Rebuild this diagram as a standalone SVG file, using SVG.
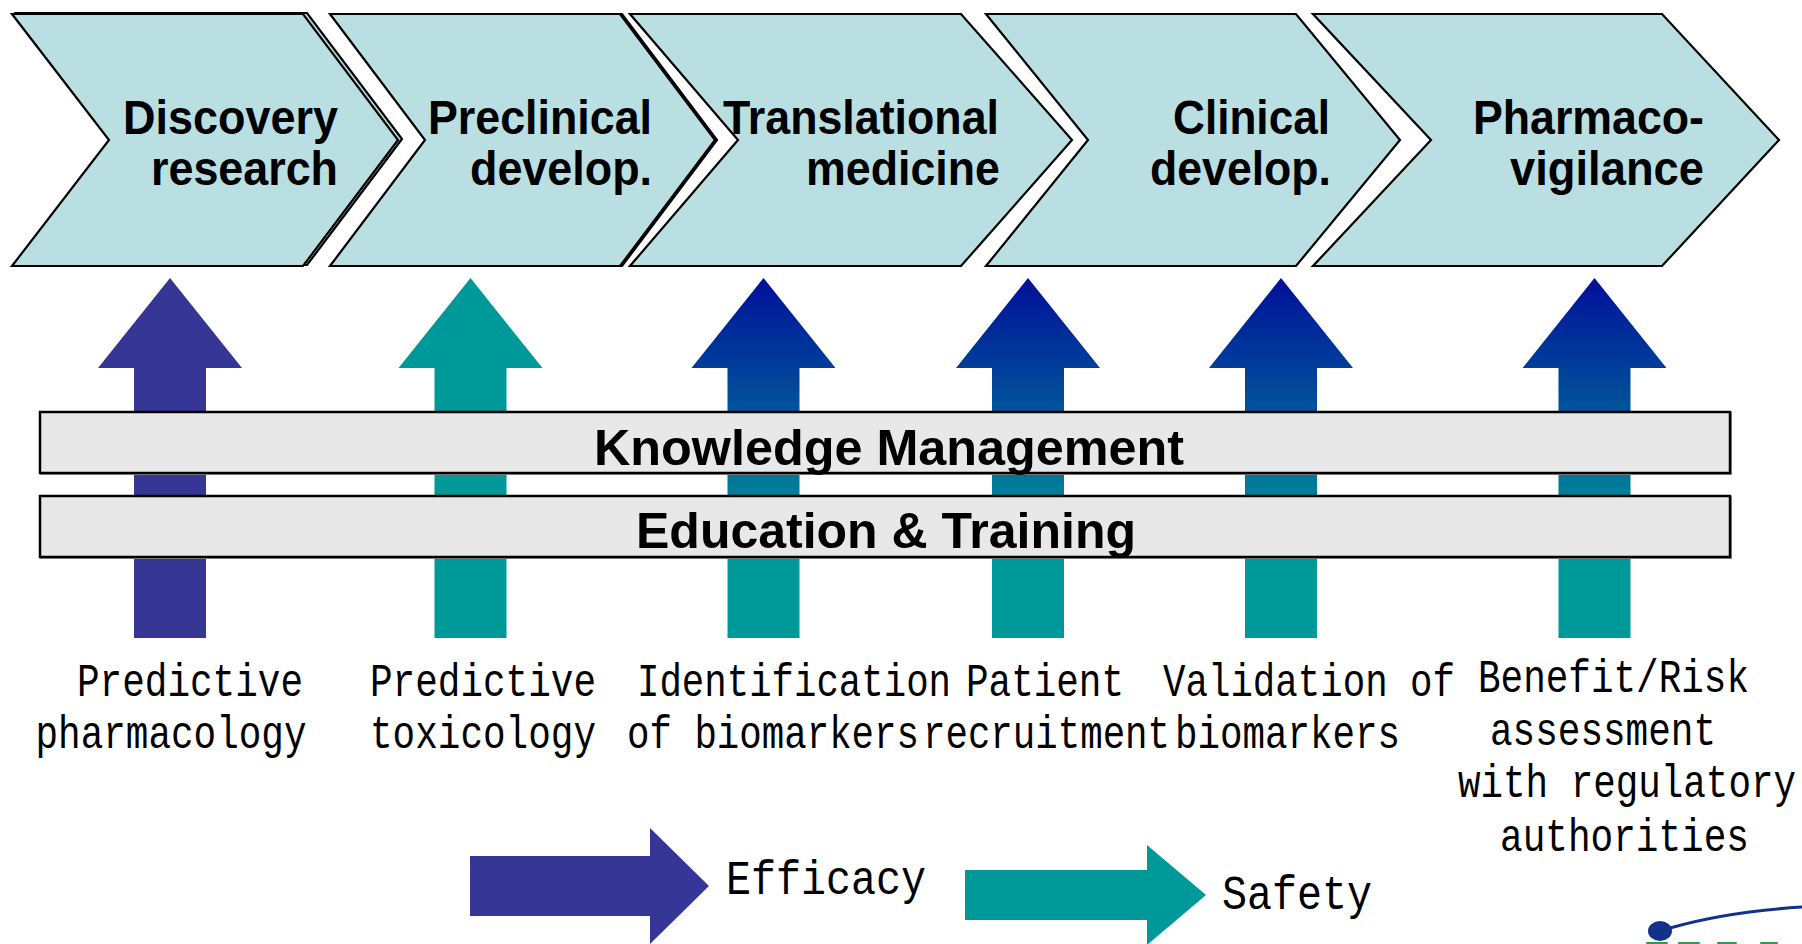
<svg xmlns="http://www.w3.org/2000/svg" width="1802" height="944" viewBox="0 0 1802 944">
  <style>
    .chev { fill: #B9DFE3; stroke: #000; stroke-width: 2.2; stroke-linejoin: miter; }
    .phase { font-family: "Liberation Sans", Arial, sans-serif; font-weight: bold; font-size: 49px; fill: #000; }
    .band { fill: #E8E8E8; stroke: #000; stroke-width: 2.5; }
    .bandshade { fill: none; stroke: #9a9a9a; stroke-width: 2; }
    .bandtxt { font-family: "Liberation Sans", Arial, sans-serif; font-weight: bold; font-size: 50px; fill: #000; }
    .lbl { font-family: "Liberation Mono", "DejaVu Sans Mono", monospace; font-size: 46px; fill: #000; }
    .leg { font-family: "Liberation Mono", "DejaVu Sans Mono", monospace; font-size: 48px; fill: #000; }
  </style>
  <defs>
    <linearGradient id="blueTeal" gradientUnits="userSpaceOnUse" x1="0" y1="278" x2="0" y2="545">
      <stop offset="0" stop-color="#00109A"/>
      <stop offset="1" stop-color="#009999"/>
    </linearGradient>
  </defs>

  <rect width="1802" height="944" fill="#fff"/>

  <!-- Phase chevrons -->
  <g id="phase-discovery">
    <polygon class="chev" transform="translate(4,-1)" points="12,14 303,14 398,140 303,266 12,266 109,140"/>
    <polygon class="chev" points="12,14 303,14 398,140 303,266 12,266 109,140"/>
    <text class="phase" x="123" y="134" textLength="215" lengthAdjust="spacingAndGlyphs">Discovery</text>
    <text class="phase" x="151" y="185" textLength="187" lengthAdjust="spacingAndGlyphs">research</text>
  </g>
  <g id="phase-preclinical">
    <polygon class="chev" transform="translate(2,0)" points="330,14 620,14 715,140 620,266 330,266 425,140"/>
    <polygon class="chev" points="330,14 620,14 715,140 620,266 330,266 425,140"/>
    <text class="phase" x="428" y="134" textLength="224" lengthAdjust="spacingAndGlyphs">Preclinical</text>
    <text class="phase" x="470" y="185" textLength="182" lengthAdjust="spacingAndGlyphs">develop.</text>
  </g>
  <g id="phase-translational">
    <polygon class="chev" points="630,14 961,14 1072,140 961,266 630,266 738,140"/>
    <text class="phase" x="723" y="134" textLength="276" lengthAdjust="spacingAndGlyphs">Translational</text>
    <text class="phase" x="806" y="185" textLength="194" lengthAdjust="spacingAndGlyphs">medicine</text>
  </g>
  <g id="phase-clinical">
    <polygon class="chev" points="986,14 1296,14 1400,140 1296,266 986,266 1088,140"/>
    <text class="phase" x="1173" y="134" textLength="157" lengthAdjust="spacingAndGlyphs">Clinical</text>
    <text class="phase" x="1150" y="185" textLength="181" lengthAdjust="spacingAndGlyphs">develop.</text>
  </g>
  <g id="phase-pharmacovigilance">
    <polygon class="chev" points="1313,14 1662,14 1779,140 1662,266 1313,266 1431,140"/>
    <text class="phase" x="1473" y="134" textLength="231" lengthAdjust="spacingAndGlyphs">Pharmaco-</text>
    <text class="phase" x="1510" y="185" textLength="194" lengthAdjust="spacingAndGlyphs">vigilance</text>
  </g>

  <!-- Upward contribution arrows -->
  <g id="connectors">
    <polygon fill="#363696" points="134,638 134,368 98,368 170,278 242,368 206,368 206,638"/>
    <polygon fill="#009999" points="434.5,638 434.5,368 398.5,368 470.5,278 542.5,368 506.5,368 506.5,638"/>
    <polygon fill="url(#blueTeal)" points="727.5,638 727.5,368 691.5,368 763.5,278 835.5,368 799.5,368 799.5,638"/>
    <polygon fill="url(#blueTeal)" points="992,638 992,368 956,368 1028,278 1100,368 1064,368 1064,638"/>
    <polygon fill="url(#blueTeal)" points="1245,638 1245,368 1209,368 1281,278 1353,368 1317,368 1317,638"/>
    <polygon fill="url(#blueTeal)" points="1558.5,638 1558.5,368 1522.5,368 1594.5,278 1666.5,368 1630.5,368 1630.5,638"/>
  </g>

  <!-- Cross-cutting bands -->
  <g id="band-knowledge">
    <rect class="bandshade" x="41" y="413" width="1690" height="61"/>
    <rect class="band" x="40" y="412" width="1690" height="61"/>
    <text class="bandtxt" x="594" y="465" textLength="590" lengthAdjust="spacingAndGlyphs">Knowledge Management</text>
  </g>
  <g id="band-education">
    <rect class="bandshade" x="41" y="497" width="1690" height="61"/>
    <rect class="band" x="40" y="496" width="1690" height="61"/>
    <text class="bandtxt" x="636" y="548" textLength="500" lengthAdjust="spacingAndGlyphs">Education &amp; Training</text>
  </g>

  <!-- Contribution labels -->
  <g id="label-pharmacology">
    <text class="lbl" x="77" y="696" textLength="226" lengthAdjust="spacingAndGlyphs">Predictive</text>
    <text class="lbl" x="35.5" y="748" textLength="271" lengthAdjust="spacingAndGlyphs">pharmacology</text>
  </g>
  <g id="label-toxicology">
    <text class="lbl" x="370" y="696" textLength="226" lengthAdjust="spacingAndGlyphs">Predictive</text>
    <text class="lbl" x="370" y="748" textLength="226" lengthAdjust="spacingAndGlyphs">toxicology</text>
  </g>
  <g id="label-identification">
    <text class="lbl" x="637" y="696" textLength="314" lengthAdjust="spacingAndGlyphs">Identification</text>
    <text class="lbl" x="627" y="748" textLength="292" lengthAdjust="spacingAndGlyphs">of biomarkers</text>
  </g>
  <g id="label-recruitment">
    <text class="lbl" x="966" y="696" textLength="158" lengthAdjust="spacingAndGlyphs">Patient</text>
    <text class="lbl" x="923" y="748" textLength="247" lengthAdjust="spacingAndGlyphs">recruitment</text>
  </g>
  <g id="label-validation">
    <text class="lbl" x="1163" y="696" textLength="292" lengthAdjust="spacingAndGlyphs">Validation of</text>
    <text class="lbl" x="1175" y="748" textLength="225" lengthAdjust="spacingAndGlyphs">biomarkers</text>
  </g>
  <g id="label-benefit-risk">
    <text class="lbl" x="1478" y="692" textLength="271" lengthAdjust="spacingAndGlyphs">Benefit/Risk</text>
    <text class="lbl" x="1490" y="745" textLength="226" lengthAdjust="spacingAndGlyphs">assessment</text>
    <text class="lbl" x="1458" y="797" textLength="338" lengthAdjust="spacingAndGlyphs">with regulatory</text>
    <text class="lbl" x="1500" y="851" textLength="249" lengthAdjust="spacingAndGlyphs">authorities</text>
  </g>

  <!-- Legend -->
  <g id="legend-efficacy">
    <polygon fill="#363696" points="470,856 650,856 650,828 709,886 650,944 650,916 470,916"/>
    <text class="leg" x="726" y="894" textLength="200" lengthAdjust="spacingAndGlyphs">Efficacy</text>
  </g>
  <g id="legend-safety">
    <polygon fill="#009999" points="965,870 1147,870 1147,845 1206,895 1147,945 1147,920 965,920"/>
    <text class="leg" x="1222" y="909" textLength="150" lengthAdjust="spacingAndGlyphs">Safety</text>
  </g>

  <!-- Corner emblem -->
  <g id="emblem">
    <path d="M1670,928 Q1725,912 1802,907" fill="none" stroke="#12318A" stroke-width="3"/>
    <ellipse cx="1660" cy="931" rx="12" ry="10" fill="#12318A"/>
    <rect x="1646" y="942" width="22" height="2" rx="1" fill="#2E9B4E"/>
    <rect x="1678" y="942" width="22" height="2" rx="1" fill="#2E9B4E"/>
    <rect x="1717" y="942" width="20" height="2" rx="1" fill="#2E9B4E"/>
    <rect x="1760" y="942" width="18" height="2" rx="1" fill="#2E9B4E"/>
  </g>
</svg>
